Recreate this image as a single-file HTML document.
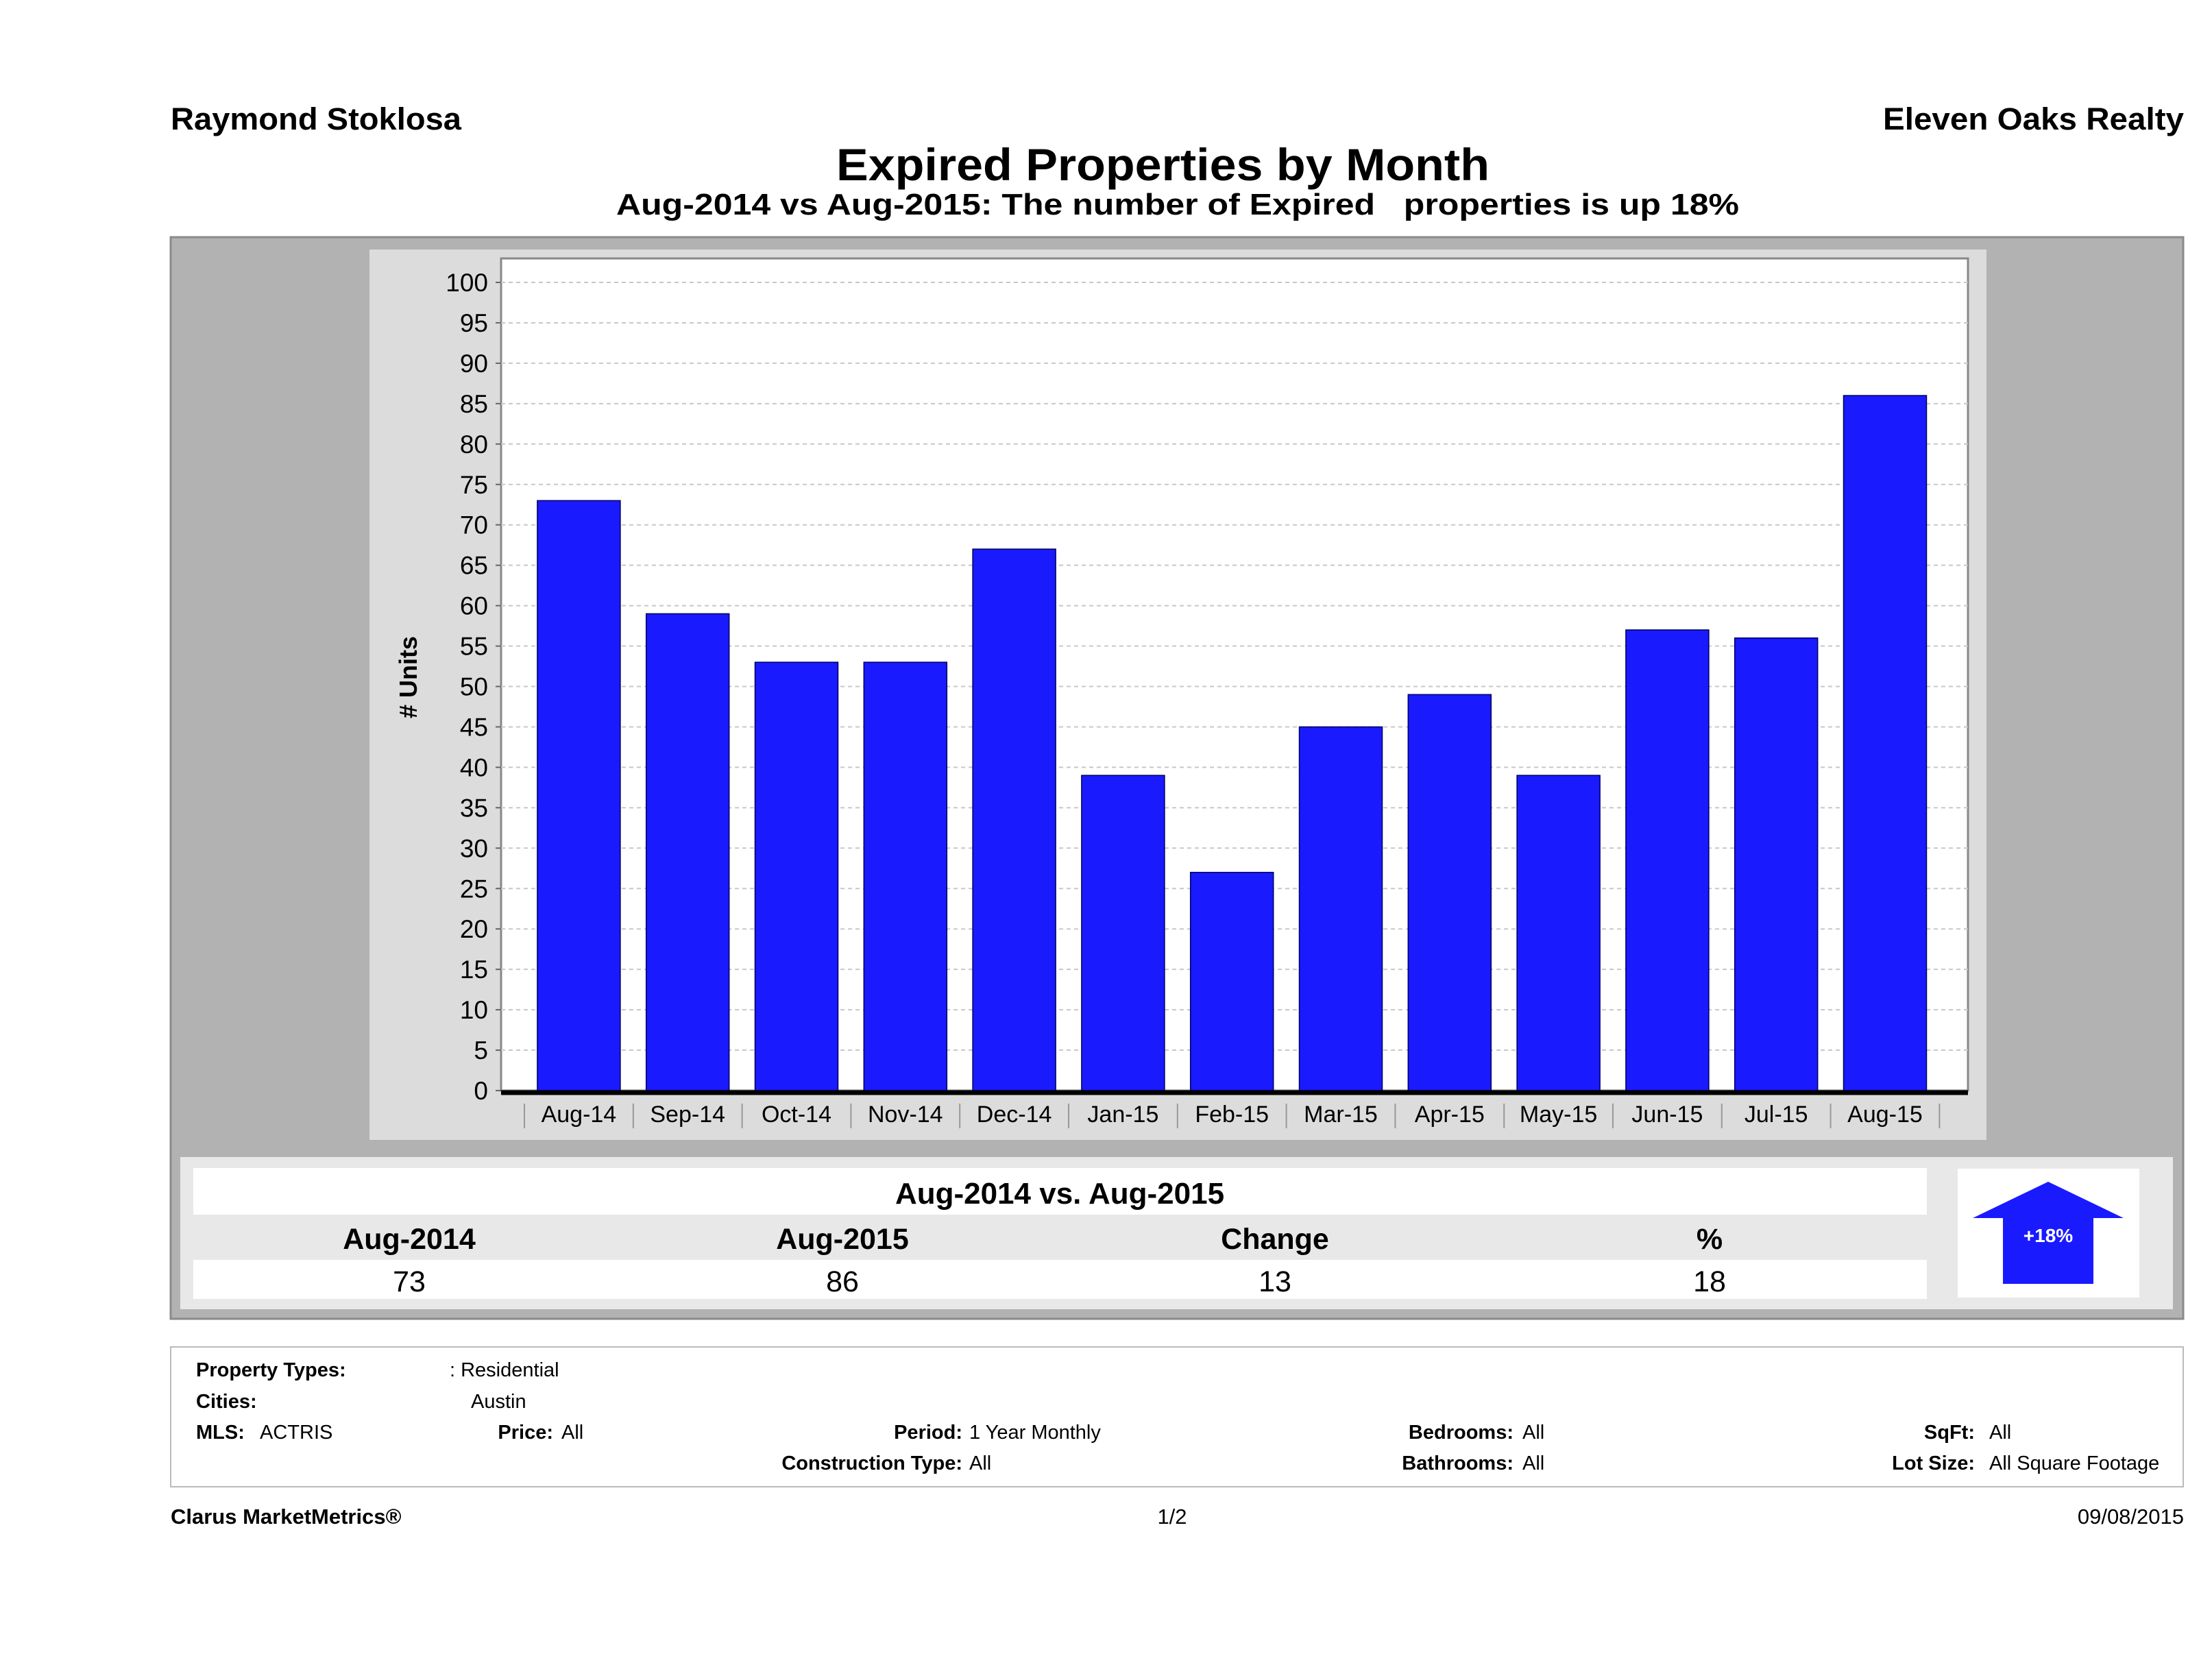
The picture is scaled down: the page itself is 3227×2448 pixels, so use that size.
<!DOCTYPE html>
<html><head><meta charset="utf-8"><style>
html,body{margin:0;padding:0;background:#fff}
svg{display:block}
text{font-family:"Liberation Sans","DejaVu Sans",sans-serif}
</style></head><body>
<svg id="chart" width="3227" height="2448" viewBox="0 0 3227 2448" xmlns="http://www.w3.org/2000/svg">
<text x="249" y="189" font-size="45" font-weight="bold" textLength="424" lengthAdjust="spacingAndGlyphs">Raymond Stoklosa</text>
<text x="2747" y="189" font-size="45" font-weight="bold" textLength="439" lengthAdjust="spacingAndGlyphs">Eleven Oaks Realty</text>
<text x="1220" y="263" font-size="66" font-weight="bold" textLength="953" lengthAdjust="spacingAndGlyphs">Expired Properties by Month</text>
<text x="899" y="313" font-size="44" font-weight="bold" textLength="1638" lengthAdjust="spacingAndGlyphs">Aug-2014 vs Aug-2015: The number of Expired &#160; properties is up 18%</text>

<rect x="249" y="346" width="2936" height="1578" fill="#b2b2b2" stroke="#8a8a8a" stroke-width="3"/>
<rect x="539" y="364" width="2359" height="1299" fill="#dcdcdc"/>
<rect x="731" y="377" width="2140" height="1214" fill="#fff" stroke="#888" stroke-width="3"/>
<g id="grid"></g>
<g id="bars"></g>
<g id="axes"></g>
<text transform="translate(608,988) rotate(-90)" font-size="36" font-weight="bold" text-anchor="middle"># Units</text>

<rect x="263" y="1688" width="2907" height="222" fill="#e8e8e8"/>
<rect x="282" y="1704" width="2529" height="68" fill="#fff"/>
<rect x="282" y="1772" width="2529" height="66" fill="#e8e8e8"/>
<rect x="282" y="1838" width="2529" height="57" fill="#fff"/>
<text x="1546" y="1756" font-size="44" font-weight="bold" text-anchor="middle">Aug-2014 vs. Aug-2015</text>
<text x="597" y="1822" font-size="43" font-weight="bold" text-anchor="middle">Aug-2014</text>
<text x="1229" y="1822" font-size="43" font-weight="bold" text-anchor="middle">Aug-2015</text>
<text x="1860" y="1822" font-size="43" font-weight="bold" text-anchor="middle">Change</text>
<text x="2494" y="1822" font-size="43" font-weight="bold" text-anchor="middle">%</text>
<text x="597" y="1884" font-size="43" text-anchor="middle">73</text>
<text x="1229" y="1884" font-size="43" text-anchor="middle">86</text>
<text x="1860" y="1884" font-size="43" text-anchor="middle">13</text>
<text x="2494" y="1884" font-size="43" text-anchor="middle">18</text>
<rect x="2856" y="1705" width="265" height="188" fill="#fff"/>
<polygon points="2988,1724 3098,1777 3054,1777 3054,1873 2922,1873 2922,1777 2878,1777" fill="#1a1aff"/>
<text x="2988" y="1812" font-size="28" font-weight="bold" fill="#fff" text-anchor="middle">+18%</text>

<rect x="249" y="1965" width="2936" height="204" fill="#fff" stroke="#bbb" stroke-width="2"/>
<g font-size="29">
<text x="286" y="2008" font-weight="bold">Property Types:</text>
<text x="656" y="2008">: Residential</text>
<text x="286" y="2054" font-weight="bold">Cities:</text>
<text x="687" y="2054">Austin</text>
<text x="286" y="2099" font-weight="bold">MLS:</text>
<text x="379" y="2099">ACTRIS</text>
<text x="807" y="2099" font-weight="bold" text-anchor="end">Price:</text>
<text x="819" y="2099">All</text>
<text x="1404" y="2099" font-weight="bold" text-anchor="end">Period:</text>
<text x="1414" y="2099">1 Year Monthly</text>
<text x="1404" y="2144" font-weight="bold" text-anchor="end">Construction Type:</text>
<text x="1414" y="2144">All</text>
<text x="2208" y="2099" font-weight="bold" text-anchor="end">Bedrooms:</text>
<text x="2221" y="2099">All</text>
<text x="2208" y="2144" font-weight="bold" text-anchor="end">Bathrooms:</text>
<text x="2221" y="2144">All</text>
<text x="2881" y="2099" font-weight="bold" text-anchor="end">SqFt:</text>
<text x="2902" y="2099">All</text>
<text x="2881" y="2144" font-weight="bold" text-anchor="end">Lot Size:</text>
<text x="2902" y="2144">All Square Footage</text>
</g>
<text x="249" y="2223" font-size="31" font-weight="bold">Clarus MarketMetrics®</text>
<text x="1710" y="2223" font-size="31" text-anchor="middle">1/2</text>
<text x="3186" y="2223" font-size="31" text-anchor="end">09/08/2015</text>
</svg>
<script>
const categories = ["Aug-14","Sep-14","Oct-14","Nov-14","Dec-14","Jan-15","Feb-15","Mar-15","Apr-15","May-15","Jun-15","Jul-15","Aug-15"];
const expiredValues = [73,59,53,53,67,39,27,45,49,39,57,56,86];
const yTicks = [0,5,10,15,20,25,30,35,40,45,50,55,60,65,70,75,80,85,90,95,100];

const NS = "http://www.w3.org/2000/svg";
const plotL = 731, plotR = 2871, y0px = 1591, y100px = 412;
const bandStart = 765, band = 158.8, barW = 121;
function yScale(v){ return y0px - (y0px - y100px) * v / 100; }
function xCenter(i){ return bandStart + band * i + band / 2; }
function mk(tag, attrs, parent){ const e = document.createElementNS(NS, tag); for (const k in attrs) e.setAttribute(k, attrs[k]); parent.appendChild(e); return e; }

const grid = document.getElementById('grid');
const bars = document.getElementById('bars');
const axes = document.getElementById('axes');
yTicks.forEach(t => {
  const y = yScale(t);
  if (t > 0) {
    const g = mk('line', {x1: plotL, x2: plotR, y1: y, y2: y, stroke: '#c8c8c8', 'stroke-width': 2, 'stroke-dasharray': '6,5'}, grid);
    
    
  }
  const tk = mk('line', {x1: plotL - 8, x2: plotL, y1: y, y2: y, stroke: '#666', 'stroke-width': 2}, axes);
  
  
  const lb = mk('text', {x: 712, y: y + 13, 'font-size': 37, 'text-anchor': 'end'}, axes);
  lb.textContent = t;
  
  
});
categories.forEach((c, i) => {
  const v = expiredValues[i];
  const r = mk('rect', {x: xCenter(i) - barW / 2, y: yScale(v), width: barW, height: y0px - yScale(v), fill: '#1a1aff', stroke: '#000060', 'stroke-width': 1.5}, bars);
  
  
  const lb = mk('text', {x: xCenter(i), y: 1637, 'font-size': 34, 'text-anchor': 'middle'}, axes);
  lb.textContent = c;
  
  
});
for (let i = 0; i <= categories.length; i++) {
  const x = bandStart + band * i;
  const s = mk('line', {x1: x, x2: x, y1: 1610, y2: 1646, stroke: '#999', 'stroke-width': 2}, axes);
  
  
}
const ax = mk('line', {x1: plotL, x2: plotR, y1: y0px + 3, y2: y0px + 3, stroke: '#000', 'stroke-width': 7}, axes);


</script>
</body></html>
